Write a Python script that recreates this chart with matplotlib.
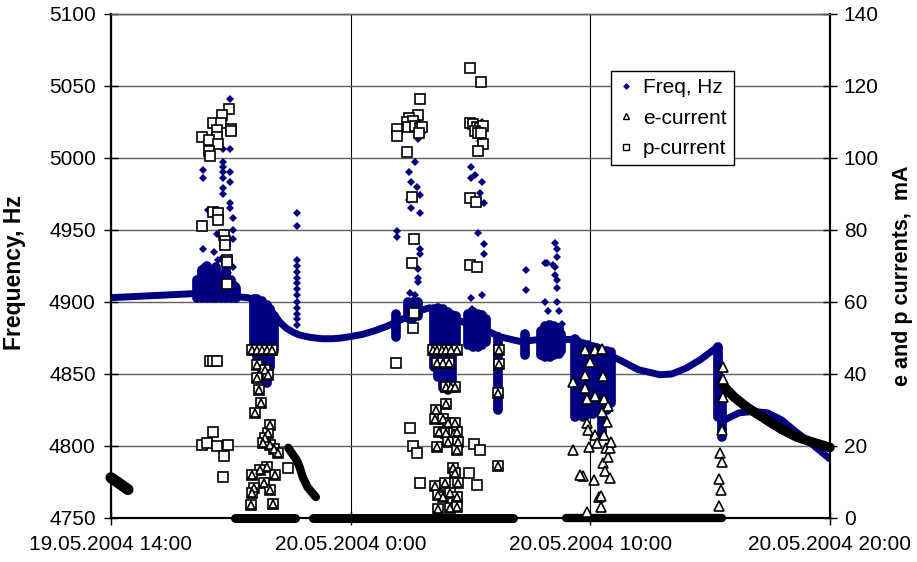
import matplotlib
matplotlib.use("Agg")
import matplotlib.pyplot as plt
from matplotlib.lines import Line2D

plt.rcParams['font.family'] = ['Liberation Sans', 'DejaVu Sans']

# time axis: hours after 19.05.2004 14:00
tick_hours = [0, 10, 20, 30]
tick_labels = ["19.05.2004 14:00", "20.05.2004 0:00", "20.05.2004 10:00", "20.05.2004 20:00"]

# slow drift of the frequency (dense points, drawn as a thick trace)
freq_base_t = [0, 3.7, 5.7, 6.2, 6.6, 7.05, 7.3, 7.6, 7.88, 8.3, 8.8, 9.25, 9.6, 10.0, 10.5,
               11.0, 11.5, 11.9, 12.4, 12.9, 13.3, 13.7, 14.1, 14.7, 15.2, 15.7, 16.2, 16.7,
               17.1, 17.9, 19.3, 19.6, 20.4, 21.2, 22.0, 22.9, 23.4, 24.0, 24.6, 25.0, 25.32]
freq_base_f = [4903, 4906, 4903, 4901, 4896, 4886, 4882, 4879, 4877, 4875.5, 4874.5, 4874.5,
               4875, 4876, 4877.5, 4880, 4883, 4886, 4890, 4894, 4896, 4894, 4890, 4886, 4883,
               4880, 4876, 4874, 4872.5, 4874, 4874, 4871, 4866, 4860, 4853, 4849.5, 4850,
               4854, 4860, 4865, 4869]
freq_tail_t = [25.6, 26.2, 26.8, 27.4, 28.0, 28.5, 29.2, 30.0]
freq_tail_f = [4818, 4823, 4824, 4823, 4818, 4811, 4802, 4791]

# dense vertical clouds of frequency points: time, lowest, highest
freq_band_t = [3.6, 3.8, 4.0, 4.2, 4.4, 4.6, 4.8, 5.0, 5.2,
               5.95, 6.1, 6.3, 6.5, 6.65, 6.8,
               11.9, 12.4, 12.6, 12.8,
               13.5, 13.65, 13.85, 14.05, 14.25, 14.4,
               14.9, 15.1, 15.3, 15.5, 15.65, 16.15,
               17.27, 17.95, 18.1, 18.3, 18.5, 18.7, 18.8,
               19.35, 19.5, 19.7, 19.9, 20.1, 20.3, 20.5, 20.7, 20.85,
               25.35, 25.5]
freq_band_lo = [4903, 4903, 4903, 4903, 4903, 4903, 4903, 4903, 4903,
                4866, 4862, 4848, 4844, 4855, 4866,
                4876, 4889, 4889, 4890,
                4855, 4848, 4840, 4839, 4840, 4866,
                4870, 4869, 4869, 4870, 4872, 4825,
                4863, 4863, 4862, 4862, 4863, 4864, 4866,
                4820, 4830, 4820, 4822, 4822, 4826, 4809, 4825, 4830,
                4820, 4806]
freq_band_hi = [4915, 4922, 4925, 4920, 4924, 4918, 4922, 4915, 4910,
                4902, 4902, 4901, 4898, 4895, 4890,
                4892, 4900, 4900, 4900,
                4895, 4896, 4895, 4893, 4891, 4890,
                4892, 4893, 4892, 4891, 4888, 4876,
                4878, 4880, 4883, 4884, 4883, 4882, 4878,
                4874, 4872, 4871, 4870, 4869, 4868, 4867, 4866, 4865,
                4869, 4840]

# isolated frequency excursions
freq_pt_t = [4.96, 4.67, 4.96, 4.67, 3.84, 3.84, 4.67, 4.67, 4.67, 4.96, 4.96, 4.67, 4.67, 4.96,
             4.96, 4.05, 5.09, 4.42, 5.09, 5.09, 3.84, 4.46, 3.84, 5.09, 4.3, 4.6, 3.7, 4.1, 5.2, 4.9,
             7.76, 7.76, 7.76, 7.76, 7.76, 7.76, 7.76, 7.76, 7.76, 7.76, 7.76, 7.76, 7.76, 7.76,
             12.89, 12.68, 12.43, 12.52, 12.77, 12.89, 12.43, 12.52, 12.89, 11.93, 11.93, 12.89,
             12.89, 12.56, 12.81, 12.81, 12.81, 12.47, 12.68, 12.85, 12.8, 12.75,
             15.48, 15.39, 15.02, 15.19, 15.02, 15.48, 15.39, 15.56, 15.31, 15.56, 15.56, 15.02,
             15.48, 15.06, 15.48,
             17.31, 18.52, 18.61, 18.61, 18.19, 18.52, 18.52, 18.11, 18.44, 18.61, 18.61, 17.31,
             18.11, 18.61, 18.23, 18.69, 18.23, 18.82]
freq_pt_f = [5041, 5006, 5006, 4997, 4992, 4986, 4994, 4990, 4986, 4990, 4983, 4979, 4975, 4969,
             4965, 4964, 4958, 4947, 4950, 4944, 4937, 4929, 4924, 4924, 4935, 4930, 4916, 4920, 4912, 4920,
             4962, 4953, 4929, 4925, 4921, 4917, 4913, 4909, 4905, 4900, 4896, 4892, 4888, 4884,
             5042, 4997, 4990, 4983, 4980, 4974, 4971, 4965, 4962, 4949, 4945, 4937,
             4933, 4927, 4923, 4917, 4914, 4906, 4905, 5020, 5013, 5023,
             5025, 5012, 4994, 4988, 4986, 4983, 4976, 4969, 4948, 4940, 4933, 4903,
             4905, 4895, 4892,
             4922, 4941, 4937, 4931, 4927, 4924, 4919, 4927, 4926, 4915, 4910, 4908,
             4900, 4900, 4894, 4894, 4885, 4885]

# points where e- and p-current coincide
both_t = [5.88, 6.1, 6.3, 6.5, 6.72, 6.09, 6.42, 6.09, 6.55, 6.17, 6.26, 6.01, 6.63, 6.55, 6.42,
          6.34, 6.63, 6.8, 6.97, 6.5, 6.22, 5.88, 6.84, 6.38, 6.63, 5.97, 5.88, 5.84, 6.76,
          13.43, 13.6, 13.8, 14.0, 14.2, 14.43, 13.6, 13.85, 14.1, 14.0, 14.2, 14.35, 13.56,
          13.98, 13.52, 13.85, 14.06, 14.35, 13.7, 14.0, 14.3, 14.43, 14.06, 14.48, 13.6, 14.43,
          14.27, 14.35, 13.52, 13.93, 14.48, 13.64, 13.85, 14.14, 14.43, 13.64, 14.14, 14.43,
          16.19, 16.19, 16.15, 16.15]
both_ma = [46.7, 46.7, 46.7, 46.7, 46.7, 42.5, 41, 39, 39.7, 35.5, 32, 29.2, 25.8, 23.6, 22.2,
           20.8, 20.3, 19.2, 18.1, 14.2, 13.3, 11.9, 11.9, 9.7, 7.8, 8.3, 6.9, 3.6, 3.9,
           46.7, 46.7, 46.7, 46.7, 46.7, 46.7, 43, 43, 43, 36.4, 36.4, 36.4, 30,
           31.7, 27.5, 27.5, 26.4, 26.4, 24, 23.5, 23.5, 24, 21, 21, 19.7, 19,
           14, 12.5, 9, 9.7, 9.7, 6.4, 5.8, 6.9, 5.8, 2.5, 2.8, 3,
           46.7, 42.8, 34.7, 14.4]

# e-current only
e_pt_t = [19.27, 19.69, 19.77, 19.77, 19.77, 19.86, 19.86, 19.9, 19.94, 19.98, 20.15, 20.19,
          20.19, 20.19, 20.28, 20.36, 20.44, 20.44, 20.48, 20.48, 20.53, 20.53, 20.57, 20.57,
          20.61, 20.65, 20.69, 20.73, 20.73, 20.82, 20.82, 20.86, 19.27, 19.85, 19.58,
          25.53, 25.53, 25.53, 25.49, 25.41, 25.49, 25.37, 25.45, 25.37]
e_pt_ma = [37.8, 11.7, 46.7, 39.7, 36, 26.4, 1.7, 24.4, 19.7, 43.3, 10.6, 46.7,
           34, 23, 20.8, 5.8, 6.1, 3, 47, 29.4, 39.4, 15.3, 33, 23,
           13, 19.4, 26.7, 31, 17, 11, 19.4, 21, 19, 33, 12,
           42, 38.6, 33.6, 24.4, 18, 15.6, 10.8, 7.8, 3.3]
e_zero_start = [19.0]
e_zero_end = [25.5]
e_tail_t = [25.53, 26.0, 26.53, 27.37, 28.0, 28.62, 29.3, 30.0]
e_tail_ma = [36.9, 33.6, 30.8, 27.2, 24.6, 22.5, 21.0, 19.6]

# p-current only
p_pt_t = [4.92, 4.63, 4.26, 4.59, 4.42, 5.0, 5.03, 3.8, 4.42, 4.09, 4.45, 4.09, 4.13,
          3.8, 4.26, 4.46, 4.46, 4.71, 4.75, 4.75, 4.84, 4.84, 4.84,
          4.13, 4.26, 4.42, 4.26, 3.8, 4.0, 4.42, 4.88, 4.71, 4.67, 7.38,
          14.98, 15.44, 14.98, 15.1, 15.27, 15.39, 15.52, 15.19, 15.31, 15.44, 15.52, 15.31,
          14.98, 15.23, 14.98, 15.27,
          12.89, 12.81, 12.43, 12.35, 12.6, 12.39, 12.68, 12.89, 12.97, 12.85, 11.93, 11.93,
          12.35, 12.56, 12.64, 12.56, 12.64, 12.6, 11.89,
          12.47, 12.6, 12.77, 15.14, 15.39, 14.94, 15.27, 12.89]
p_pt_ma = [113.6, 112, 109.7, 109.7, 107.8, 108, 107.5, 105.8, 105.8, 105, 104, 102, 100.6,
           81, 85, 84.7, 82.8, 78.6, 77, 75.8, 71.7, 71, 65,
           43.6, 43.6, 43.6, 23.9, 20.3, 20.8, 20, 20.3, 17.2, 11.4, 13.9,
           125, 121, 109.7, 109.4, 108.6, 108.3, 108.9, 107.5, 107, 107, 104, 101.9,
           89, 87.8, 70.3, 69.7,
           116.4, 112, 111, 110, 110.3, 108.6, 109, 108.3, 108.6, 107, 108, 106,
           101.7, 89.2, 77.5, 70.8, 57, 52.8, 43,
           25, 20, 18, 20.5, 19, 12.5, 9.2, 9.7]
p_zero_start = [5.17, 8.43]
p_zero_end = [7.68, 16.77]
p_head_t = [0.0, 0.35, 0.71]
p_head_ma = [11.2, 9.6, 7.9]
p_chain_t = [7.4, 7.55, 7.76, 7.88, 8.0, 8.2, 8.55]
p_chain_ma = [19.5, 18, 16, 14, 11.4, 8.6, 5.8]

navy = "#000080"

fig = plt.figure(figsize=(9.17, 5.62), dpi=100)
ax = fig.add_axes([0.121, 0.0783, 0.784, 0.8968])
ax2 = ax.twinx()

# frequency
ax.plot(freq_base_t, freq_base_f, color=navy, lw=5, solid_capstyle="round", zorder=2)
ax.plot(freq_tail_t, freq_tail_f, color=navy, lw=5, solid_capstyle="round", zorder=2)
vl = ax.vlines(freq_band_t, freq_band_lo, freq_band_hi, color=navy, lw=7, zorder=2)
vl.set_capstyle("round")
ax.plot(freq_pt_t, freq_pt_f, "D", color=navy, ms=4.5, mew=0, zorder=3)

ax.set_xlim(0, 30)
ax.set_ylim(4750, 5100)
ax.set_yticks(range(4750, 5101, 50))
ax.set_xticks(tick_hours)
ax.set_xticklabels(tick_labels)
ax.grid(axis="y", color="#606060", lw=1)
ax.grid(axis="x", color="#000000", lw=0.8)
ax.set_axisbelow(True)

# currents
mk = dict(ls="none", mfc="white", mec="black", mew=1.2, clip_on=False, zorder=4)
for s, e in zip(p_zero_start, p_zero_end):
    ax2.plot([s, e], [0, 0], color="black", lw=6.5, solid_capstyle="round", clip_on=False, zorder=4)
for s, e in zip(e_zero_start, e_zero_end):
    ax2.plot([s, e], [0, 0], color="black", lw=6, solid_capstyle="round", clip_on=False, zorder=4)
ax2.plot(e_tail_t, e_tail_ma, color="black", lw=7, solid_capstyle="round", clip_on=False, zorder=4)
ax2.plot(p_head_t, p_head_ma, color="black", lw=8, solid_capstyle="round", clip_on=False, zorder=4)
ax2.plot(p_chain_t, p_chain_ma, color="black", lw=6, solid_capstyle="round", zorder=4)
ax2.plot(p_pt_t, p_pt_ma, marker="s", ms=7, **mk)
ax2.plot(both_t, both_ma, marker="s", ms=7, **mk)
ax2.plot(both_t, both_ma, marker="^", ms=5.5, **mk)
ax2.plot(e_pt_t, e_pt_ma, marker="^", ms=6.5, **mk)

ax2.set_ylim(0, 140)
ax2.set_yticks(range(0, 141, 20))

for a in (ax, ax2):
    a.tick_params(direction="inout", length=10, width=1, labelsize=15, colors="black")
    for sp in a.spines.values():
        sp.set_linewidth(1.5)
    a.spines["top"].set_color("#606060")
    a.spines["top"].set_linewidth(1)
ax.tick_params(axis="x", pad=7)
ax.tick_params(axis="y", pad=6)
ax2.tick_params(axis="y", pad=5)

ax.set_ylabel("Frequency, Hz", fontsize=16.5, fontweight="bold")
ax.yaxis.set_label_coords(-0.118, 0.486)
ax2.set_ylabel("e and p currents,  mA", fontsize=15.5, fontweight="bold")
ax2.yaxis.set_label_coords(1.087, 0.48)

handles = [Line2D([], [], ls="none", marker="D", color=navy, ms=3.5, mew=0),
           Line2D([], [], ls="none", marker="^", mfc="white", mec="black", ms=4.5, mew=1),
           Line2D([], [], ls="none", marker="s", mfc="white", mec="black", ms=4.5, mew=1)]
leg = ax2.legend(handles, ["Freq, Hz", "e-current", "p-current"], loc="upper left",
                 bbox_to_anchor=(0.695, 0.887), fontsize=15, frameon=True, fancybox=False,
                 framealpha=1, edgecolor="black", handlelength=0.8, handletextpad=0.4,
                 labelspacing=0.55, borderpad=0.35, borderaxespad=0)
leg.get_frame().set_linewidth(1)
leg.set_zorder(10)

fig.savefig("out.png", dpi=100)
